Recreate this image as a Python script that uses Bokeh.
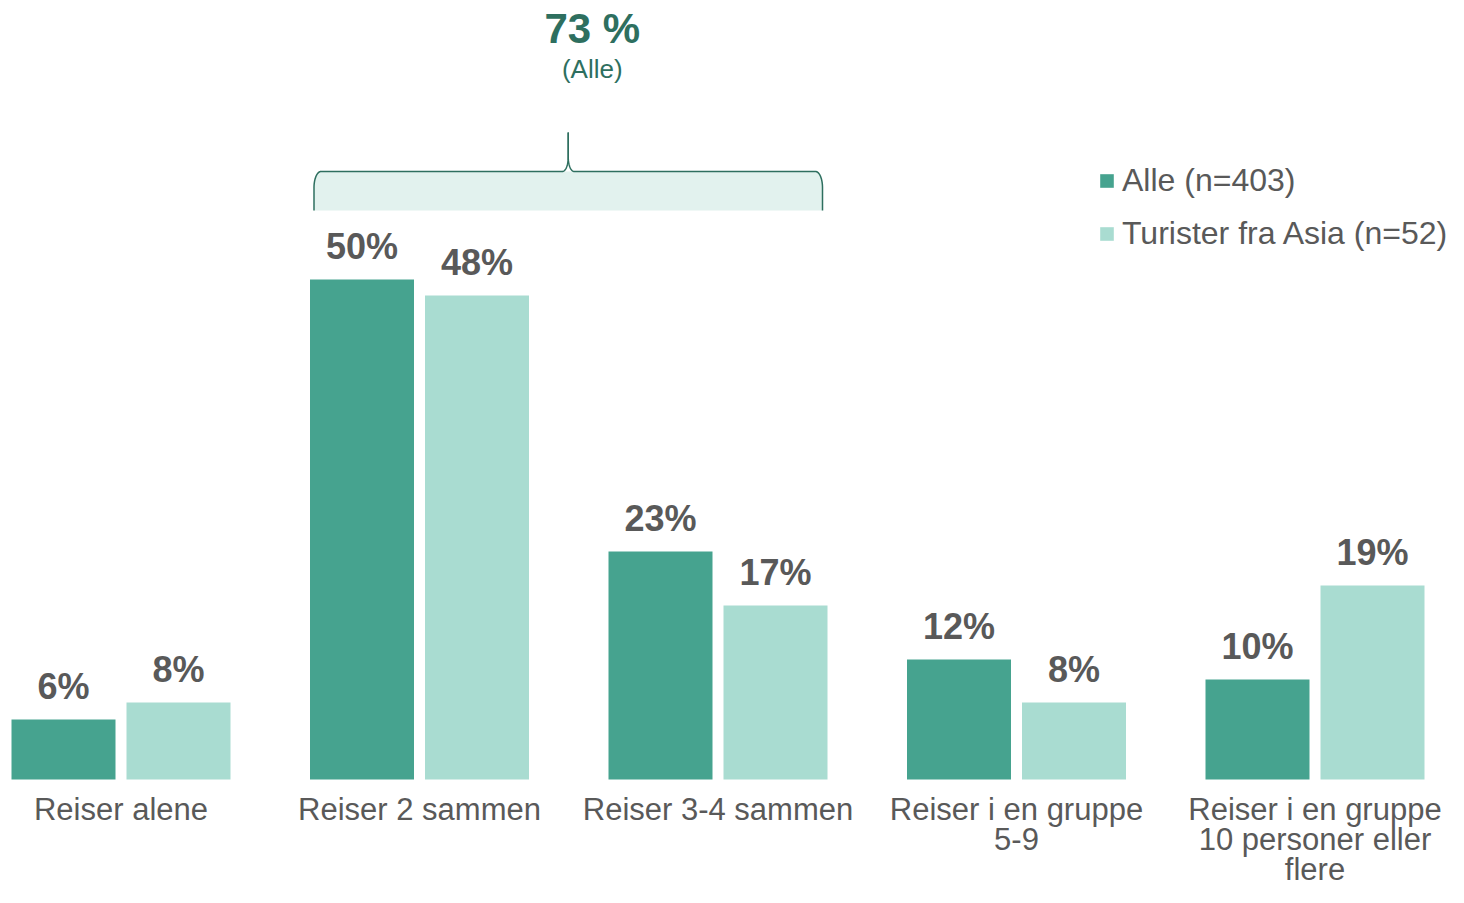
import numpy as np
from bokeh.plotting import figure
from bokeh.models import Range1d, ColumnDataSource, Legend, LegendItem
from bokeh.core.properties import value
from bokeh.embed import file_html
from bokeh.resources import INLINE

# ---------------- data ----------------
categories = [
    "Reiser alene",
    "Reiser 2 sammen",
    "Reiser 3-4 sammen",
    "Reiser i en gruppe\n5-9",
    "Reiser i en gruppe\n10 personer eller\nflere",
]
alle = [6.0, 50.0, 22.8, 12.0, 10.0]
asia = [7.7, 48.4, 17.4, 7.7, 19.4]
series_names = ["Alle (n=403)", "Turister fra Asia (n=52)"]
bracket_total = "73 %"
bracket_note = "(Alle)"
bracket_span = [1, 2]  # categories covered by the bracket

# ---------------- style ----------------
DARK = "#46A38F"
LIGHT = "#A9DCD1"
TXT = "#595959"
ACCENT = "#2E6F5F"
BRACE_FILL = "#E2F2EE"
FONT = "Liberation Sans"

W, H = 1448, 887
PX_X = 298.5      # px per category
PX_Y = 10.0       # px per percent
BASE = 779        # pixel row of the zero line
X0 = -120.5 / PX_X
Y0 = (BASE - H) / PX_Y
BASE_FIX = 0.37   # bokeh alphabetic-baseline correction (fraction of font size)


def py(px):
    """pixel row -> data value"""
    return (BASE - px) / PX_Y


p = figure(width=W, height=H, output_backend="svg", toolbar_location=None,
           x_range=Range1d(X0, X0 + W / PX_X), y_range=Range1d(Y0, Y0 + H / PX_Y),
           x_axis_location=None, y_axis_location=None, min_border=0,
           outline_line_color=None)
p.xgrid.visible = False
p.ygrid.visible = False
p.background_fill_color = "white"
p.border_fill_color = "white"

idx = np.arange(len(categories))
off = 57.5 / PX_X
bw = 104 / PX_X

# ---------------- bracket ----------------
xl = bracket_span[0] - off - bw / 2 + 4 / PX_X
xr = bracket_span[1] + off + bw / 2 - 5 / PX_X
xm = (xl + xr) / 2
yb = py(210)
yt = py(171)
ytip = py(132)
rx, ry = 7 / PX_X, 16 / PX_Y
rx2, ry2 = 6 / PX_X, 14 / PX_Y

t = np.linspace(np.pi, np.pi / 2, 20)
lc_x = (xl + rx) + rx * np.cos(t)
lc_y = (yt - ry) + ry * np.sin(t)
t2 = np.linspace(-np.pi / 2, 0, 20)
mc_x = (xm - rx2) + rx2 * np.cos(t2)
mc_y = (yt + ry2) + ry2 * np.sin(t2)

left_x = np.concatenate([[xl], lc_x, mc_x, [xm]])
left_y = np.concatenate([[yb], lc_y, mc_y, [ytip]])
right_x = 2 * xm - left_x
right_y = left_y

fill_x = np.concatenate([[xl], lc_x, (2 * xm - lc_x)[::-1], [xr]])
fill_y = np.concatenate([[yb], lc_y, lc_y[::-1], [yb]])
p.patch(fill_x, fill_y, fill_color=BRACE_FILL, line_color=None)
p.line(left_x, left_y, line_color=ACCENT, line_width=1.5)
p.line(right_x, right_y, line_color=ACCENT, line_width=1.5)

p.text(x=[xm + 24 / PX_X], y=[py(43.5)], text=[bracket_total],
       y_offset=-BASE_FIX * 42, text_align="center",
       text_baseline="alphabetic", text_font=value(FONT), text_font_style="bold",
       text_font_size="42px", text_color=ACCENT)
p.text(x=[xm + 24 / PX_X], y=[py(78.5)], text=[bracket_note],
       y_offset=-BASE_FIX * 26, text_align="center",
       text_baseline="alphabetic", text_font=value(FONT),
       text_font_size="26px", text_color=ACCENT)

# ---------------- bars ----------------
src = ColumnDataSource(dict(
    xd=idx - off, xl=idx + off, alle=alle, asia=asia,
    la=[f"{round(v)}%" for v in alle], lb=[f"{round(v)}%" for v in asia],
))
r1 = p.vbar(x="xd", top="alle", bottom=0, width=bw, source=src,
            fill_color=DARK, line_color=None)
r2 = p.vbar(x="xl", top="asia", bottom=0, width=bw, source=src,
            fill_color=LIGHT, line_color=None)

for col, key, lab in (("xd", "alle", "la"), ("xl", "asia", "lb")):
    p.text(x=col, y=key, text=lab, source=src,
           y_offset=-20 - BASE_FIX * 36, text_align="center", text_baseline="alphabetic",
           text_font=value(FONT), text_font_style="bold", text_font_size="36px",
           text_color=TXT)

# ---------------- category labels ----------------
lx, ly, lt, lo = [], [], [], []
for i, c in enumerate(categories):
    for k, line in enumerate(c.split("\n")):
        lx.append(i)
        ly.append(py(820))
        lt.append(line)
        lo.append(k * 30 - BASE_FIX * 31)
lsrc = ColumnDataSource(dict(x=lx, y=ly, t=lt, o=lo))
p.text(x="x", y="y", text="t", y_offset="o", source=lsrc, text_align="center",
       text_baseline="alphabetic", text_font=value(FONT), text_font_size="31px",
       text_color=TXT)

# ---------------- legend ----------------
legend = Legend(items=[LegendItem(label=series_names[0], renderers=[r1]),
                       LegendItem(label=series_names[1], renderers=[r2])],
                location=(1098, H - 252), orientation="vertical",
                glyph_width=17, glyph_height=17, label_standoff=7,
                label_height=36, spacing=16, padding=0, margin=0,
                border_line_color=None, background_fill_alpha=0,
                label_text_font=FONT, label_text_font_size="32px",
                label_text_color=TXT)
p.add_layout(legend)

open("out.html", "w").write(file_html(p, INLINE))
